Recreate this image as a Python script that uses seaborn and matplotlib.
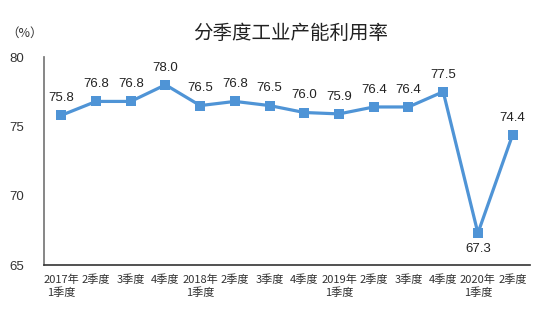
import matplotlib
matplotlib.use("Agg")
import matplotlib.pyplot as plt
import seaborn as sns
import pandas as pd
import numpy as np

categories = ["2017年\n1季度", "2季度", "3季度", "4季度", "2018年\n1季度", "2季度", "3季度",
              "4季度", "2019年\n1季度", "2季度", "3季度", "4季度", "2020年\n1季度", "2季度"]
values = [75.8, 76.8, 76.8, 78.0, 76.5, 76.8, 76.5, 76.0, 75.9, 76.4, 76.4, 77.5, 67.3, 74.4]
yticks = [65, 70, 75, 80]

sns.set_theme(style="white")
plt.rcParams['font.family'] = ['Noto Sans CJK SC', 'DejaVu Sans']

df = pd.DataFrame({"pos": np.arange(len(categories)), "value": values})

fig = plt.figure(figsize=(5.5, 3.17), dpi=100)
ax = fig.add_axes([0.08, 0.164, 0.8836, 0.656])
color = "#4f94d6"
sns.lineplot(data=df, x="pos", y="value", ax=ax, color=color, linewidth=2.3,
             marker="s", markersize=6.5, markeredgewidth=0, markerfacecolor=color)

ax.set_xlim(-0.5, len(categories) - 0.5)
ax.set_ylim(65, 80)
ax.set_yticks(yticks)
ax.set_yticklabels([str(t) for t in yticks], family="Liberation Sans", fontsize=9.5)
ax.set_xticks(np.arange(len(categories) + 1) - 0.5)
ax.set_xticklabels([])
ax.set_xticks(np.arange(len(categories)), minor=True)
ax.set_xticklabels(categories, minor=True, fontsize=8, color="#333333", linespacing=1.25)
ax.tick_params(axis="x", which="major", direction="in", length=3, width=1, colors="#333333")
ax.tick_params(axis="x", which="minor", length=0, pad=7)
ax.tick_params(axis="y", direction="in", length=3, width=0.8, colors="#333333", pad=14)
ax.set_xlabel("")
ax.set_ylabel("")
for s in ["top", "right"]:
    ax.spines[s].set_visible(False)
ax.spines["left"].set_color("#777777")
ax.spines["bottom"].set_color("#333333")
ax.spines["bottom"].set_linewidth(1.2)

for i, v in enumerate(values):
    if i > 0 and i < len(values) - 1 and v < values[i - 1] - 3:
        ax.annotate(f"{v:.1f}", (i, v), xytext=(0, -7), textcoords="offset points",
                    ha="center", va="top", fontsize=9.5, family="Liberation Sans", color="#222222")
    else:
        ax.annotate(f"{v:.1f}", (i, v), xytext=(0, 8), textcoords="offset points",
                    ha="center", va="bottom", fontsize=9.5, family="Liberation Sans", color="#222222")

fig.text(0.529, 0.895, "分季度工业产能利用率", ha="center", va="center", fontsize=14, color="#222222")
fig.text(0.012, 0.895, "（%）", ha="left", va="center", fontsize=9, color="#333333")

fig.savefig("out.png", dpi=100)
